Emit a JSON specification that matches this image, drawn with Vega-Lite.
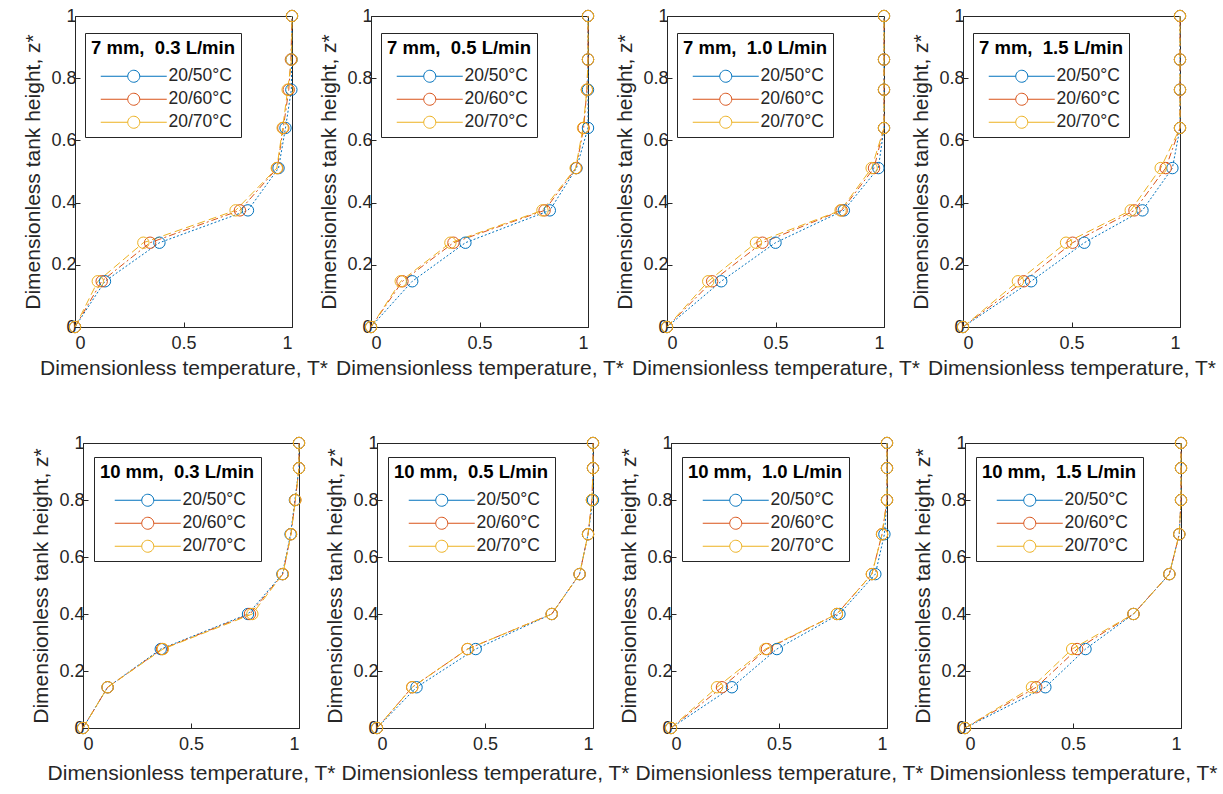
{
  "$schema": "https://vega.github.io/schema/vega-lite/v6.json",
  "background": "white",
  "padding": {"left": 22, "top": 6, "right": 5, "bottom": 5},
  "data": {"values": [
    {"p":"a","s":"20/50°C","T":0,"z":0},{"p":"a","s":"20/50°C","T":0.138,"z":0.147},{"p":"a","s":"20/50°C","T":0.389,"z":0.271},{"p":"a","s":"20/50°C","T":0.797,"z":0.375},{"p":"a","s":"20/50°C","T":0.938,"z":0.511},{"p":"a","s":"20/50°C","T":0.97,"z":0.64},{"p":"a","s":"20/50°C","T":0.997,"z":0.763},{"p":"a","s":"20/50°C","T":0.998,"z":0.86},{"p":"a","s":"20/50°C","T":1,"z":1},
    {"p":"a","s":"20/60°C","T":0,"z":0},{"p":"a","s":"20/60°C","T":0.123,"z":0.147},{"p":"a","s":"20/60°C","T":0.346,"z":0.271},{"p":"a","s":"20/60°C","T":0.76,"z":0.375},{"p":"a","s":"20/60°C","T":0.932,"z":0.511},{"p":"a","s":"20/60°C","T":0.96,"z":0.64},{"p":"a","s":"20/60°C","T":0.985,"z":0.763},{"p":"a","s":"20/60°C","T":0.995,"z":0.86},{"p":"a","s":"20/60°C","T":1,"z":1},
    {"p":"a","s":"20/70°C","T":0,"z":0},{"p":"a","s":"20/70°C","T":0.105,"z":0.147},{"p":"a","s":"20/70°C","T":0.315,"z":0.271},{"p":"a","s":"20/70°C","T":0.74,"z":0.375},{"p":"a","s":"20/70°C","T":0.93,"z":0.511},{"p":"a","s":"20/70°C","T":0.957,"z":0.64},{"p":"a","s":"20/70°C","T":0.98,"z":0.763},{"p":"a","s":"20/70°C","T":0.998,"z":0.86},{"p":"a","s":"20/70°C","T":1,"z":1},
    {"p":"b","s":"20/50°C","T":0,"z":0},{"p":"b","s":"20/50°C","T":0.19,"z":0.147},{"p":"b","s":"20/50°C","T":0.435,"z":0.271},{"p":"b","s":"20/50°C","T":0.824,"z":0.375},{"p":"b","s":"20/50°C","T":0.947,"z":0.511},{"p":"b","s":"20/50°C","T":1,"z":0.64},{"p":"b","s":"20/50°C","T":1,"z":0.763},{"p":"b","s":"20/50°C","T":1,"z":0.86},{"p":"b","s":"20/50°C","T":1,"z":1},
    {"p":"b","s":"20/60°C","T":0,"z":0},{"p":"b","s":"20/60°C","T":0.145,"z":0.147},{"p":"b","s":"20/60°C","T":0.38,"z":0.271},{"p":"b","s":"20/60°C","T":0.8,"z":0.375},{"p":"b","s":"20/60°C","T":0.945,"z":0.511},{"p":"b","s":"20/60°C","T":0.98,"z":0.64},{"p":"b","s":"20/60°C","T":0.995,"z":0.763},{"p":"b","s":"20/60°C","T":1,"z":0.86},{"p":"b","s":"20/60°C","T":1,"z":1},
    {"p":"b","s":"20/70°C","T":0,"z":0},{"p":"b","s":"20/70°C","T":0.137,"z":0.147},{"p":"b","s":"20/70°C","T":0.366,"z":0.271},{"p":"b","s":"20/70°C","T":0.79,"z":0.375},{"p":"b","s":"20/70°C","T":0.943,"z":0.511},{"p":"b","s":"20/70°C","T":0.977,"z":0.64},{"p":"b","s":"20/70°C","T":0.995,"z":0.763},{"p":"b","s":"20/70°C","T":1,"z":0.86},{"p":"b","s":"20/70°C","T":1,"z":1},
    {"p":"c","s":"20/50°C","T":0,"z":0},{"p":"c","s":"20/50°C","T":0.25,"z":0.147},{"p":"c","s":"20/50°C","T":0.5,"z":0.271},{"p":"c","s":"20/50°C","T":0.815,"z":0.375},{"p":"c","s":"20/50°C","T":0.974,"z":0.511},{"p":"c","s":"20/50°C","T":1,"z":0.64},{"p":"c","s":"20/50°C","T":1,"z":0.763},{"p":"c","s":"20/50°C","T":1,"z":0.86},{"p":"c","s":"20/50°C","T":1,"z":1},
    {"p":"c","s":"20/60°C","T":0,"z":0},{"p":"c","s":"20/60°C","T":0.208,"z":0.147},{"p":"c","s":"20/60°C","T":0.44,"z":0.271},{"p":"c","s":"20/60°C","T":0.805,"z":0.375},{"p":"c","s":"20/60°C","T":0.954,"z":0.511},{"p":"c","s":"20/60°C","T":1,"z":0.64},{"p":"c","s":"20/60°C","T":1,"z":0.763},{"p":"c","s":"20/60°C","T":1,"z":0.86},{"p":"c","s":"20/60°C","T":1,"z":1},
    {"p":"c","s":"20/70°C","T":0,"z":0},{"p":"c","s":"20/70°C","T":0.19,"z":0.147},{"p":"c","s":"20/70°C","T":0.41,"z":0.271},{"p":"c","s":"20/70°C","T":0.8,"z":0.375},{"p":"c","s":"20/70°C","T":0.943,"z":0.511},{"p":"c","s":"20/70°C","T":1,"z":0.64},{"p":"c","s":"20/70°C","T":1,"z":0.763},{"p":"c","s":"20/70°C","T":1,"z":0.86},{"p":"c","s":"20/70°C","T":1,"z":1},
    {"p":"d","s":"20/50°C","T":0,"z":0},{"p":"d","s":"20/50°C","T":0.314,"z":0.147},{"p":"d","s":"20/50°C","T":0.559,"z":0.271},{"p":"d","s":"20/50°C","T":0.827,"z":0.375},{"p":"d","s":"20/50°C","T":0.965,"z":0.511},{"p":"d","s":"20/50°C","T":1,"z":0.64},{"p":"d","s":"20/50°C","T":1,"z":0.763},{"p":"d","s":"20/50°C","T":1,"z":0.86},{"p":"d","s":"20/50°C","T":1,"z":1},
    {"p":"d","s":"20/60°C","T":0,"z":0},{"p":"d","s":"20/60°C","T":0.28,"z":0.147},{"p":"d","s":"20/60°C","T":0.505,"z":0.271},{"p":"d","s":"20/60°C","T":0.79,"z":0.375},{"p":"d","s":"20/60°C","T":0.934,"z":0.511},{"p":"d","s":"20/60°C","T":1,"z":0.64},{"p":"d","s":"20/60°C","T":1,"z":0.763},{"p":"d","s":"20/60°C","T":1,"z":0.86},{"p":"d","s":"20/60°C","T":1,"z":1},
    {"p":"d","s":"20/70°C","T":0,"z":0},{"p":"d","s":"20/70°C","T":0.253,"z":0.147},{"p":"d","s":"20/70°C","T":0.475,"z":0.271},{"p":"d","s":"20/70°C","T":0.773,"z":0.375},{"p":"d","s":"20/70°C","T":0.911,"z":0.511},{"p":"d","s":"20/70°C","T":1,"z":0.64},{"p":"d","s":"20/70°C","T":1,"z":0.763},{"p":"d","s":"20/70°C","T":1,"z":0.86},{"p":"d","s":"20/70°C","T":1,"z":1},
    {"p":"e","s":"20/50°C","T":0,"z":0},{"p":"e","s":"20/50°C","T":0.114,"z":0.143},{"p":"e","s":"20/50°C","T":0.36,"z":0.277},{"p":"e","s":"20/50°C","T":0.764,"z":0.4},{"p":"e","s":"20/50°C","T":0.923,"z":0.54},{"p":"e","s":"20/50°C","T":0.961,"z":0.68},{"p":"e","s":"20/50°C","T":0.981,"z":0.8},{"p":"e","s":"20/50°C","T":1,"z":0.912},{"p":"e","s":"20/50°C","T":1,"z":1},
    {"p":"e","s":"20/60°C","T":0,"z":0},{"p":"e","s":"20/60°C","T":0.114,"z":0.143},{"p":"e","s":"20/60°C","T":0.366,"z":0.277},{"p":"e","s":"20/60°C","T":0.773,"z":0.4},{"p":"e","s":"20/60°C","T":0.925,"z":0.54},{"p":"e","s":"20/60°C","T":0.963,"z":0.68},{"p":"e","s":"20/60°C","T":0.983,"z":0.8},{"p":"e","s":"20/60°C","T":1,"z":0.912},{"p":"e","s":"20/60°C","T":1,"z":1},
    {"p":"e","s":"20/70°C","T":0,"z":0},{"p":"e","s":"20/70°C","T":0.114,"z":0.143},{"p":"e","s":"20/70°C","T":0.37,"z":0.277},{"p":"e","s":"20/70°C","T":0.784,"z":0.4},{"p":"e","s":"20/70°C","T":0.925,"z":0.54},{"p":"e","s":"20/70°C","T":0.963,"z":0.68},{"p":"e","s":"20/70°C","T":0.983,"z":0.8},{"p":"e","s":"20/70°C","T":1,"z":0.912},{"p":"e","s":"20/70°C","T":1,"z":1},
    {"p":"f","s":"20/50°C","T":0,"z":0},{"p":"f","s":"20/50°C","T":0.183,"z":0.143},{"p":"f","s":"20/50°C","T":0.457,"z":0.277},{"p":"f","s":"20/50°C","T":0.809,"z":0.4},{"p":"f","s":"20/50°C","T":0.938,"z":0.54},{"p":"f","s":"20/50°C","T":0.977,"z":0.68},{"p":"f","s":"20/50°C","T":1,"z":0.8},{"p":"f","s":"20/50°C","T":1,"z":0.912},{"p":"f","s":"20/50°C","T":1,"z":1},
    {"p":"f","s":"20/60°C","T":0,"z":0},{"p":"f","s":"20/60°C","T":0.163,"z":0.143},{"p":"f","s":"20/60°C","T":0.419,"z":0.277},{"p":"f","s":"20/60°C","T":0.809,"z":0.4},{"p":"f","s":"20/60°C","T":0.938,"z":0.54},{"p":"f","s":"20/60°C","T":0.977,"z":0.68},{"p":"f","s":"20/60°C","T":0.995,"z":0.8},{"p":"f","s":"20/60°C","T":1,"z":0.912},{"p":"f","s":"20/60°C","T":1,"z":1},
    {"p":"f","s":"20/70°C","T":0,"z":0},{"p":"f","s":"20/70°C","T":0.163,"z":0.143},{"p":"f","s":"20/70°C","T":0.419,"z":0.277},{"p":"f","s":"20/70°C","T":0.809,"z":0.4},{"p":"f","s":"20/70°C","T":0.938,"z":0.54},{"p":"f","s":"20/70°C","T":0.977,"z":0.68},{"p":"f","s":"20/70°C","T":0.995,"z":0.8},{"p":"f","s":"20/70°C","T":1,"z":0.912},{"p":"f","s":"20/70°C","T":1,"z":1},
    {"p":"g","s":"20/50°C","T":0,"z":0},{"p":"g","s":"20/50°C","T":0.282,"z":0.143},{"p":"g","s":"20/50°C","T":0.49,"z":0.277},{"p":"g","s":"20/50°C","T":0.78,"z":0.4},{"p":"g","s":"20/50°C","T":0.946,"z":0.54},{"p":"g","s":"20/50°C","T":0.988,"z":0.68},{"p":"g","s":"20/50°C","T":1,"z":0.8},{"p":"g","s":"20/50°C","T":1,"z":0.912},{"p":"g","s":"20/50°C","T":1,"z":1},
    {"p":"g","s":"20/60°C","T":0,"z":0},{"p":"g","s":"20/60°C","T":0.236,"z":0.143},{"p":"g","s":"20/60°C","T":0.444,"z":0.277},{"p":"g","s":"20/60°C","T":0.768,"z":0.4},{"p":"g","s":"20/60°C","T":0.93,"z":0.54},{"p":"g","s":"20/60°C","T":0.977,"z":0.68},{"p":"g","s":"20/60°C","T":1,"z":0.8},{"p":"g","s":"20/60°C","T":1,"z":0.912},{"p":"g","s":"20/60°C","T":1,"z":1},
    {"p":"g","s":"20/70°C","T":0,"z":0},{"p":"g","s":"20/70°C","T":0.213,"z":0.143},{"p":"g","s":"20/70°C","T":0.437,"z":0.277},{"p":"g","s":"20/70°C","T":0.768,"z":0.4},{"p":"g","s":"20/70°C","T":0.93,"z":0.54},{"p":"g","s":"20/70°C","T":0.977,"z":0.68},{"p":"g","s":"20/70°C","T":1,"z":0.8},{"p":"g","s":"20/70°C","T":1,"z":0.912},{"p":"g","s":"20/70°C","T":1,"z":1},
    {"p":"h","s":"20/50°C","T":0,"z":0},{"p":"h","s":"20/50°C","T":0.372,"z":0.143},{"p":"h","s":"20/50°C","T":0.558,"z":0.277},{"p":"h","s":"20/50°C","T":0.78,"z":0.4},{"p":"h","s":"20/50°C","T":0.946,"z":0.54},{"p":"h","s":"20/50°C","T":0.992,"z":0.68},{"p":"h","s":"20/50°C","T":1,"z":0.8},{"p":"h","s":"20/50°C","T":1,"z":0.912},{"p":"h","s":"20/50°C","T":1,"z":1},
    {"p":"h","s":"20/60°C","T":0,"z":0},{"p":"h","s":"20/60°C","T":0.33,"z":0.143},{"p":"h","s":"20/60°C","T":0.519,"z":0.277},{"p":"h","s":"20/60°C","T":0.78,"z":0.4},{"p":"h","s":"20/60°C","T":0.946,"z":0.54},{"p":"h","s":"20/60°C","T":0.992,"z":0.68},{"p":"h","s":"20/60°C","T":1,"z":0.8},{"p":"h","s":"20/60°C","T":1,"z":0.912},{"p":"h","s":"20/60°C","T":1,"z":1},
    {"p":"h","s":"20/70°C","T":0,"z":0},{"p":"h","s":"20/70°C","T":0.31,"z":0.143},{"p":"h","s":"20/70°C","T":0.496,"z":0.277},{"p":"h","s":"20/70°C","T":0.78,"z":0.4},{"p":"h","s":"20/70°C","T":0.946,"z":0.54},{"p":"h","s":"20/70°C","T":0.992,"z":0.68},{"p":"h","s":"20/70°C","T":1,"z":0.8},{"p":"h","s":"20/70°C","T":1,"z":0.912},{"p":"h","s":"20/70°C","T":1,"z":1}
  ]},
  "bounds": "flush",
  "spacing": 427,
  "resolve": {"legend": {"color": "independent"}},
  "vconcat": [
    {
      "bounds": "flush",
      "spacing": 79,
      "resolve": {"legend": {"color": "independent"}},
      "hconcat": [
        {"width":217,"height":311,"transform":[{"filter":"datum.p=='a'"}],
         "encoding":{"x":{"field":"T","type":"quantitative","scale":{"domain":[0,1]},"axis":{"values":[0,0.5,1],"format":"~g","title":"Dimensionless temperature, T*"}},
                     "y":{"field":"z","type":"quantitative","scale":{"domain":[0,1]},"axis":{"values":[0,0.2,0.4,0.6,0.8,1],"format":"~g","title":"Dimensionless tank height, z*"}},
                     "color":{"field":"s","type":"nominal","scale":{"domain":["20/50°C","20/60°C","20/70°C"],"range":["#0072BD","#D95319","#EDB120"]},"legend":{"title":"7 mm,\u00a0 0.3 L/min","orient":"none","legendX":10,"legendY":17,"symbolType":"M-5.5,0L-1,0M1,0L5.5,0M1,0A1,1 0 1,1 -1,0A1,1 0 1,1 1,0"}}},
         "layer":[
           {"mark":{"type":"line","strokeWidth":1},"encoding":{"strokeDash":{"field":"s","type":"nominal","scale":{"domain":["20/50°C","20/60°C","20/70°C"],"range":[[2,2],[7,3,2,3],[8,4]]},"legend":null},"order":{"field":"z","type":"quantitative"}}},
           {"mark":{"type":"point","shape":"circle","filled":false,"size":130,"strokeWidth":1,"opacity":1}}
         ]},
        {"width":217,"height":311,"transform":[{"filter":"datum.p=='b'"}],
         "encoding":{"x":{"field":"T","type":"quantitative","scale":{"domain":[0,1]},"axis":{"values":[0,0.5,1],"format":"~g","title":"Dimensionless temperature, T*"}},
                     "y":{"field":"z","type":"quantitative","scale":{"domain":[0,1]},"axis":{"values":[0,0.2,0.4,0.6,0.8,1],"format":"~g","title":"Dimensionless tank height, z*"}},
                     "color":{"field":"s","type":"nominal","scale":{"domain":["20/50°C","20/60°C","20/70°C"],"range":["#0072BD","#D95319","#EDB120"]},"legend":{"title":"7 mm,\u00a0 0.5 L/min","orient":"none","legendX":10,"legendY":17,"symbolType":"M-5.5,0L-1,0M1,0L5.5,0M1,0A1,1 0 1,1 -1,0A1,1 0 1,1 1,0"}}},
         "layer":[
           {"mark":{"type":"line","strokeWidth":1},"encoding":{"strokeDash":{"field":"s","type":"nominal","scale":{"domain":["20/50°C","20/60°C","20/70°C"],"range":[[2,2],[7,3,2,3],[8,4]]},"legend":null},"order":{"field":"z","type":"quantitative"}}},
           {"mark":{"type":"point","shape":"circle","filled":false,"size":130,"strokeWidth":1,"opacity":1}}
         ]},
        {"width":217,"height":311,"transform":[{"filter":"datum.p=='c'"}],
         "encoding":{"x":{"field":"T","type":"quantitative","scale":{"domain":[0,1]},"axis":{"values":[0,0.5,1],"format":"~g","title":"Dimensionless temperature, T*"}},
                     "y":{"field":"z","type":"quantitative","scale":{"domain":[0,1]},"axis":{"values":[0,0.2,0.4,0.6,0.8,1],"format":"~g","title":"Dimensionless tank height, z*"}},
                     "color":{"field":"s","type":"nominal","scale":{"domain":["20/50°C","20/60°C","20/70°C"],"range":["#0072BD","#D95319","#EDB120"]},"legend":{"title":"7 mm,\u00a0 1.0 L/min","orient":"none","legendX":10,"legendY":17,"symbolType":"M-5.5,0L-1,0M1,0L5.5,0M1,0A1,1 0 1,1 -1,0A1,1 0 1,1 1,0"}}},
         "layer":[
           {"mark":{"type":"line","strokeWidth":1},"encoding":{"strokeDash":{"field":"s","type":"nominal","scale":{"domain":["20/50°C","20/60°C","20/70°C"],"range":[[2,2],[7,3,2,3],[8,4]]},"legend":null},"order":{"field":"z","type":"quantitative"}}},
           {"mark":{"type":"point","shape":"circle","filled":false,"size":130,"strokeWidth":1,"opacity":1}}
         ]},
        {"width":217,"height":311,"transform":[{"filter":"datum.p=='d'"}],
         "encoding":{"x":{"field":"T","type":"quantitative","scale":{"domain":[0,1]},"axis":{"values":[0,0.5,1],"format":"~g","title":"Dimensionless temperature, T*"}},
                     "y":{"field":"z","type":"quantitative","scale":{"domain":[0,1]},"axis":{"values":[0,0.2,0.4,0.6,0.8,1],"format":"~g","title":"Dimensionless tank height, z*"}},
                     "color":{"field":"s","type":"nominal","scale":{"domain":["20/50°C","20/60°C","20/70°C"],"range":["#0072BD","#D95319","#EDB120"]},"legend":{"title":"7 mm,\u00a0 1.5 L/min","orient":"none","legendX":10,"legendY":17,"symbolType":"M-5.5,0L-1,0M1,0L5.5,0M1,0A1,1 0 1,1 -1,0A1,1 0 1,1 1,0"}}},
         "layer":[
           {"mark":{"type":"line","strokeWidth":1},"encoding":{"strokeDash":{"field":"s","type":"nominal","scale":{"domain":["20/50°C","20/60°C","20/70°C"],"range":[[2,2],[7,3,2,3],[8,4]]},"legend":null},"order":{"field":"z","type":"quantitative"}}},
           {"mark":{"type":"point","shape":"circle","filled":false,"size":130,"strokeWidth":1,"opacity":1}}
         ]}
      ]
    },
    {
      "bounds": "flush",
      "spacing": 0,
      "resolve": {"legend": {"color": "independent"}},
      "hconcat": [
        {"width": 8, "height": 0, "data": {"values": []}, "mark": {"type": "point", "opacity": 0}, "view": {"stroke": null}},
        {
          "bounds": "flush",
          "spacing": 78,
          "resolve": {"legend": {"color": "independent"}},
          "hconcat": [
            {"width":216,"height":285,"transform":[{"filter":"datum.p=='e'"}],
             "encoding":{"x":{"field":"T","type":"quantitative","scale":{"domain":[0,1]},"axis":{"values":[0,0.5,1],"format":"~g","title":"Dimensionless temperature, T*","titlePadding":9}},
                         "y":{"field":"z","type":"quantitative","scale":{"domain":[0,1]},"axis":{"values":[0,0.2,0.4,0.6,0.8,1],"format":"~g","title":"Dimensionless tank height, z*"}},
                         "color":{"field":"s","type":"nominal","scale":{"domain":["20/50°C","20/60°C","20/70°C"],"range":["#0072BD","#D95319","#EDB120"]},"legend":{"title":"10 mm,\u00a0 0.3 L/min","orient":"none","legendX":11,"legendY":14,"symbolType":"M-5.5,0L-1,0M1,0L5.5,0M1,0A1,1 0 1,1 -1,0A1,1 0 1,1 1,0"}}},
             "layer":[
               {"mark":{"type":"line","strokeWidth":1},"encoding":{"strokeDash":{"field":"s","type":"nominal","scale":{"domain":["20/50°C","20/60°C","20/70°C"],"range":[[2,2],[7,3,2,3],[8,4]]},"legend":null},"order":{"field":"z","type":"quantitative"}}},
               {"mark":{"type":"point","shape":"circle","filled":false,"size":130,"strokeWidth":1,"opacity":1}}
             ]},
            {"width":216,"height":285,"transform":[{"filter":"datum.p=='f'"}],
             "encoding":{"x":{"field":"T","type":"quantitative","scale":{"domain":[0,1]},"axis":{"values":[0,0.5,1],"format":"~g","title":"Dimensionless temperature, T*","titlePadding":9}},
                         "y":{"field":"z","type":"quantitative","scale":{"domain":[0,1]},"axis":{"values":[0,0.2,0.4,0.6,0.8,1],"format":"~g","title":"Dimensionless tank height, z*"}},
                         "color":{"field":"s","type":"nominal","scale":{"domain":["20/50°C","20/60°C","20/70°C"],"range":["#0072BD","#D95319","#EDB120"]},"legend":{"title":"10 mm,\u00a0 0.5 L/min","orient":"none","legendX":11,"legendY":14,"symbolType":"M-5.5,0L-1,0M1,0L5.5,0M1,0A1,1 0 1,1 -1,0A1,1 0 1,1 1,0"}}},
             "layer":[
               {"mark":{"type":"line","strokeWidth":1},"encoding":{"strokeDash":{"field":"s","type":"nominal","scale":{"domain":["20/50°C","20/60°C","20/70°C"],"range":[[2,2],[7,3,2,3],[8,4]]},"legend":null},"order":{"field":"z","type":"quantitative"}}},
               {"mark":{"type":"point","shape":"circle","filled":false,"size":130,"strokeWidth":1,"opacity":1}}
             ]},
            {"width":216,"height":285,"transform":[{"filter":"datum.p=='g'"}],
             "encoding":{"x":{"field":"T","type":"quantitative","scale":{"domain":[0,1]},"axis":{"values":[0,0.5,1],"format":"~g","title":"Dimensionless temperature, T*","titlePadding":9}},
                         "y":{"field":"z","type":"quantitative","scale":{"domain":[0,1]},"axis":{"values":[0,0.2,0.4,0.6,0.8,1],"format":"~g","title":"Dimensionless tank height, z*"}},
                         "color":{"field":"s","type":"nominal","scale":{"domain":["20/50°C","20/60°C","20/70°C"],"range":["#0072BD","#D95319","#EDB120"]},"legend":{"title":"10 mm,\u00a0 1.0 L/min","orient":"none","legendX":11,"legendY":14,"symbolType":"M-5.5,0L-1,0M1,0L5.5,0M1,0A1,1 0 1,1 -1,0A1,1 0 1,1 1,0"}}},
             "layer":[
               {"mark":{"type":"line","strokeWidth":1},"encoding":{"strokeDash":{"field":"s","type":"nominal","scale":{"domain":["20/50°C","20/60°C","20/70°C"],"range":[[2,2],[7,3,2,3],[8,4]]},"legend":null},"order":{"field":"z","type":"quantitative"}}},
               {"mark":{"type":"point","shape":"circle","filled":false,"size":130,"strokeWidth":1,"opacity":1}}
             ]},
            {"width":216,"height":285,"transform":[{"filter":"datum.p=='h'"}],
             "encoding":{"x":{"field":"T","type":"quantitative","scale":{"domain":[0,1]},"axis":{"values":[0,0.5,1],"format":"~g","title":"Dimensionless temperature, T*","titlePadding":9}},
                         "y":{"field":"z","type":"quantitative","scale":{"domain":[0,1]},"axis":{"values":[0,0.2,0.4,0.6,0.8,1],"format":"~g","title":"Dimensionless tank height, z*"}},
                         "color":{"field":"s","type":"nominal","scale":{"domain":["20/50°C","20/60°C","20/70°C"],"range":["#0072BD","#D95319","#EDB120"]},"legend":{"title":"10 mm,\u00a0 1.5 L/min","orient":"none","legendX":11,"legendY":14,"symbolType":"M-5.5,0L-1,0M1,0L5.5,0M1,0A1,1 0 1,1 -1,0A1,1 0 1,1 1,0"}}},
             "layer":[
               {"mark":{"type":"line","strokeWidth":1},"encoding":{"strokeDash":{"field":"s","type":"nominal","scale":{"domain":["20/50°C","20/60°C","20/70°C"],"range":[[2,2],[7,3,2,3],[8,4]]},"legend":null},"order":{"field":"z","type":"quantitative"}}},
               {"mark":{"type":"point","shape":"circle","filled":false,"size":130,"strokeWidth":1,"opacity":1}}
             ]}
          ]
        }
      ]
    }
  ],
  "config": {
    "font": "Liberation Sans",
    "view": {"stroke": "#262626", "strokeWidth": 1},
    "axis": {"grid": false, "domainColor": "#262626", "tickColor": "#262626", "tickSize": -5, "labelFontSize": 18, "labelColor": "#262626", "titleFontSize": 21, "titleFontWeight": "normal", "titleColor": "#262626", "labelPadding": 4},
    "axisX": {"titlePadding": 5, "labelPadding": 12},
    "axisY": {"titlePadding": 7},
    "legend": {"strokeColor": "#262626", "fillColor": "white", "padding": 6, "labelFontSize": 17.5, "titleFontSize": 18.5, "titleFontWeight": "bold", "titleColor": "#000000", "labelColor": "#262626", "symbolSize": 144, "symbolOffset": 30, "labelOffset": 26, "rowPadding": 4, "titlePadding": 10, "symbolStrokeWidth": 1, "titleLimit": 300, "titleAnchor": "middle"}
  }
}
